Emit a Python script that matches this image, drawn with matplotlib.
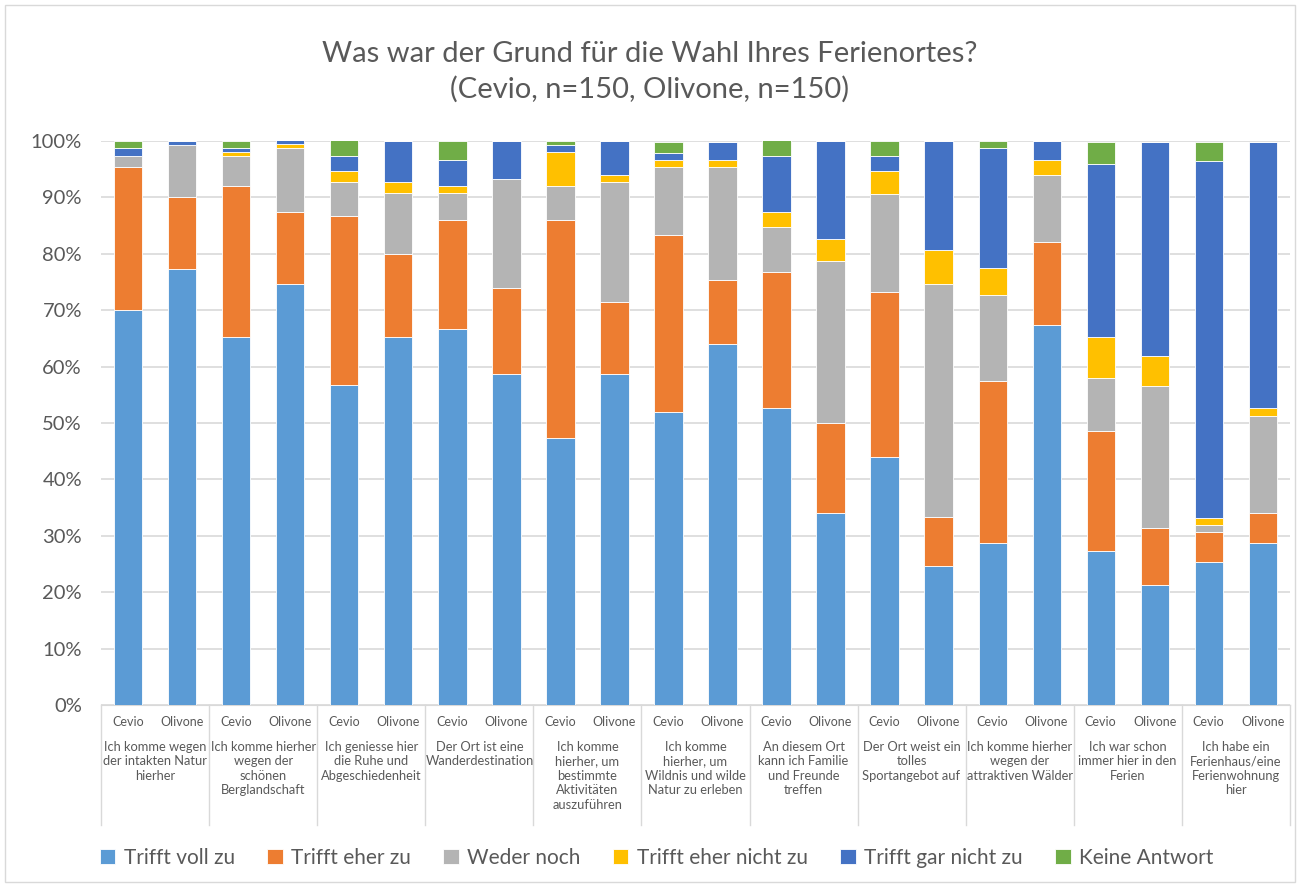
import numpy as np
import matplotlib
matplotlib.use("Agg")
import matplotlib.pyplot as plt
import matplotlib.transforms as mtransforms
from matplotlib.patches import Rectangle

plt.rcParams["font.family"] = ["Lato", "DejaVu Sans"]

TITLE = "Was war der Grund für die Wahl Ihres Ferienortes?\n(Cevio, n=150, Olivone, n=150)"

ORTE = ["Cevio", "Olivone"]
KATEGORIEN = [
    "Ich komme wegen\nder intakten Natur\nhierher",
    "Ich komme hierher\nwegen der\nschönen\nBerglandschaft",
    "Ich geniesse hier\ndie Ruhe und\nAbgeschiedenheit",
    "Der Ort ist eine\nWanderdestination",
    "Ich komme\nhierher, um\nbestimmte\nAktivitäten\nauszuführen",
    "Ich komme\nhierher, um\nWildnis und wilde\nNatur zu erleben",
    "An diesem Ort\nkann ich Familie\nund Freunde\ntreffen",
    "Der Ort weist ein\ntolles\nSportangebot auf",
    "Ich komme hierher\nwegen der\nattraktiven Wälder",
    "Ich war schon\nimmer hier in den\nFerien",
    "Ich habe ein\nFerienhaus/eine\nFerienwohnung\nhier",
]

SERIEN = ["Trifft voll zu", "Trifft eher zu", "Weder noch",
          "Trifft eher nicht zu", "Trifft gar nicht zu", "Keine Antwort"]

# Prozentwerte, Reihenfolge: Cevio, Olivone je Kategorie
voll_zu = [70.0, 77.3, 65.3, 74.7, 56.7, 65.3, 66.7, 58.7, 47.3, 58.7, 52.0,
           64.0, 52.7, 34.0, 44.0, 24.7, 28.7, 67.3, 27.3, 21.3, 25.3, 28.7]
eher_zu = [25.3, 12.7, 26.7, 12.7, 30.0, 14.7, 19.3, 15.3, 38.7, 12.7, 31.3,
           11.3, 24.0, 16.0, 29.3, 8.7, 28.7, 14.7, 21.3, 10.0, 5.3, 5.3]
weder_noch = [2.0, 9.3, 5.3, 11.3, 6.0, 10.7, 4.7, 19.3, 6.0, 21.3, 12.0,
              20.0, 8.0, 28.7, 17.3, 41.3, 15.3, 12.0, 9.3, 25.3, 1.3, 17.3]
eher_nicht = [0.0, 0.0, 0.7, 0.7, 2.0, 2.0, 1.3, 0.0, 6.0, 1.3, 1.3,
              1.3, 2.7, 4.0, 4.0, 6.0, 4.7, 2.7, 7.3, 5.3, 1.3, 1.3]
gar_nicht = [1.4, 0.7, 0.7, 0.7, 2.7, 7.3, 4.7, 6.7, 1.3, 6.0, 1.3,
             3.3, 10.0, 17.3, 2.7, 19.3, 21.3, 3.3, 30.7, 38.0, 63.3, 47.3]
keine_antwort = [1.3, 0.0, 1.3, 0.0, 2.7, 0.0, 3.3, 0.0, 0.7, 0.0, 2.0,
                 0.0, 2.7, 0.0, 2.7, 0.0, 1.3, 0.0, 4.0, 0.0, 3.3, 0.0]

FARBEN = ["#5B9BD5", "#ED7D31", "#B4B4B4", "#FFC000", "#4472C4", "#70AD47"]
TEXT_GRAU = "#595959"
LINIEN_GRAU = "#D9D9D9"


def draw_axis_table(ax, n_groups):
    trans = mtransforms.blended_transform_factory(ax.transData, ax.transAxes)
    y_low = -0.213
    for g in range(n_groups + 1):
        x = g * 2 - 0.5
        ax.plot([x, x], [0, y_low], transform=trans, color=LINIEN_GRAU,
                lw=1, clip_on=False)
    for g in range(n_groups):
        for k, ort in enumerate(ORTE):
            ax.text(g * 2 + k, -0.030, ort, transform=trans, ha="center",
                    va="center", fontsize=9, color=TEXT_GRAU)
        ax.text(g * 2 + 0.5, -0.063, KATEGORIEN[g], transform=trans,
                ha="center", va="top", fontsize=9.3, color=TEXT_GRAU,
                linespacing=1.25)


def main():
    werte = [voll_zu, eher_zu, weder_noch, eher_nicht, gar_nicht, keine_antwort]
    n_bars = len(voll_zu)
    x = np.arange(n_bars)

    fig = plt.figure(figsize=(13, 8.86), dpi=100)
    ax = fig.add_axes([0.078, 0.2043, 0.914, 0.6366])

    bottom = np.zeros(n_bars)
    handles = []
    for name, vals, col in zip(SERIEN, werte, FARBEN):
        vals = np.array(vals)
        b = ax.bar(x, vals, 0.52, bottom=bottom, color=col, label=name,
                   edgecolor="white", linewidth=0.6, zorder=3)
        handles.append(b)
        bottom += vals

    ax.set_xlim(-0.5, n_bars - 0.5)
    ax.set_ylim(0, 100)
    ax.set_yticks(np.arange(0, 101, 10))
    ax.set_yticklabels([f"{v}%" for v in range(0, 101, 10)])
    ax.tick_params(axis="y", length=0, labelsize=14.5, colors=TEXT_GRAU, pad=14)
    ax.set_xticks([])
    ax.grid(axis="y", color=LINIEN_GRAU, lw=1.2, zorder=0)
    for s in ["top", "right", "left"]:
        ax.spines[s].set_visible(False)
    ax.spines["bottom"].set_color(LINIEN_GRAU)

    draw_axis_table(ax, len(KATEGORIEN))

    fig.text(0.5, 0.919, TITLE, ha="center", va="center", fontsize=21,
             color=TEXT_GRAU, linespacing=1.4)

    fig.legend(handles=handles, labels=SERIEN, loc="center",
               bbox_to_anchor=(0.505, 0.032), ncol=6, frameon=False,
               fontsize=15, handlelength=0.75, handleheight=0.75,
               handletextpad=0.4, columnspacing=1.55, labelcolor=TEXT_GRAU)

    fig.patches.append(Rectangle((0.004, 0.004), 0.992, 0.99,
                                 transform=fig.transFigure, fill=False,
                                 edgecolor=LINIEN_GRAU, lw=1))

    fig.savefig("out.png", dpi=100)
    plt.close(fig)


if __name__ == "__main__":
    main()
